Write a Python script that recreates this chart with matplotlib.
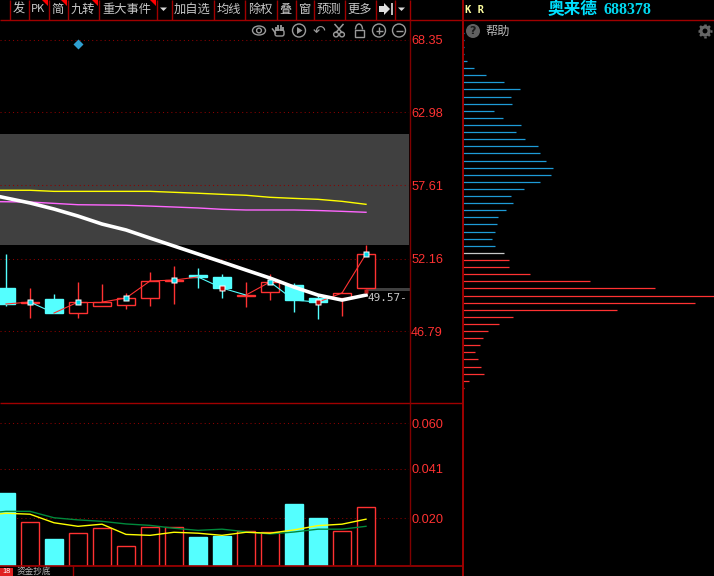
import matplotlib
matplotlib.use("Agg")
import matplotlib.pyplot as plt
from matplotlib.patches import Rectangle, Circle, Ellipse, Polygon, Arc, FancyBboxPatch
import numpy as np

W, H = 714, 576
BLACK = "#000000"; RED = "#ff3232"; DRED = "#a00000"; CYAN = "#54ffff"; GRAY = "#a8a8a8"
CJK = ["Noto Sans CJK SC", "DejaVu Sans"]

# ---------- data ----------
opens  = [49.98,48.87,49.17,48.13,48.65,48.72,49.24,50.50,50.94,50.80,49.39,49.68,50.20,49.24,49.24,49.98]
closes = [48.80,48.94,48.13,48.94,48.94,49.24,50.50,50.57,50.80,49.98,49.46,50.43,49.09,48.94,49.61,52.50]
highs  = [52.50,49.98,49.54,50.43,50.28,49.61,51.17,51.61,51.46,51.02,50.43,51.02,50.35,49.46,49.68,53.17]
lows   = [48.65,47.76,48.13,47.76,48.65,48.43,48.65,48.80,49.98,49.24,48.57,49.09,48.20,47.68,47.91,49.98]
# overlay series begin one period before the first visible candle
ma_white   = [57.02,56.65,56.28,55.83,55.31,54.72,54.28,53.68,53.09,52.50,51.91,51.31,50.72,50.05,49.46,49.09,49.46]
ma_yellow  = [57.22,57.22,57.22,57.14,57.14,57.14,57.14,57.14,57.07,57.00,56.92,56.85,56.70,56.62,56.55,56.40,56.18]
ma_magenta = [56.38,56.37,56.35,56.25,56.15,56.13,56.11,56.05,55.98,55.91,55.81,55.76,55.76,55.76,55.72,55.66,55.59]
volumes = [.0309,.0187,.0112,.0137,.0158,.0086,.0166,.0166,.0120,.0125,.0149,.0141,.0259,.0204,.0146,.0250]
vol_yellow = [.0212,.0222,.0218,.0182,.0167,.0176,.0133,.0129,.0142,.0138,.0129,.0142,.0138,.0152,.0170,.0176,.0197]
vol_green  = [.0220,.0230,.0230,.0203,.0194,.0188,.0177,.0171,.0159,.0150,.0155,.0144,.0135,.0143,.0155,.0155,.0167]
price_ticks = [68.35,62.98,57.61,52.16,46.79]
vol_ticks = [0.060,0.041,0.020]
prof_prices = [68.87,68.35,67.83,67.31,66.79,66.28,65.76,65.24,64.72,64.13,63.61,63.09,62.57,62.05,61.54,61.02,60.50,59.98,59.39,58.87,58.35,
               57.83,57.31,56.79,56.28,55.76,55.24,54.72,54.13,53.61,53.09,52.57,52.05,51.54,51.02,50.50,49.98,49.39,48.87,48.35,47.83,47.31,46.79,46.28,45.76,45.24,44.72,44.13,43.61,43.09,42.57]
prof_sizes  = [1,1,1,1,4,11,23,41,57,48,49,31,40,58,53,62,75,77,83,90,88,
               77,61,48,50,43,35,34,32,29,32,41,46,46,67,127,192,251,232,154,50,36,25,20,17,12,15,18,21,6,1]
last_price = 49.57
band = (53.17, 61.39)
band2 = (49.76, 49.98)
title_name = "奥来德"; title_code = "688378"
toolbar_labels = ["发","PK","简","九转","重大事件","加自选","均线","除权","叠","窗","预测","更多"]
toolbar_edges = [9,28,48,67,98,156,171,213,244,276,295,313,344,375,394,409]

idx = np.arange(len(opens))
ov_x = np.arange(-1, len(opens))

fig = plt.figure(figsize=(W/100, H/100), dpi=100, facecolor=BLACK)
def px_axes(x0, y0, x1, y1, **kw):
    a = fig.add_axes([x0/W, 1-y1/H, (x1-x0)/W, (y1-y0)/H], facecolor=BLACK, **kw)
    for s in a.spines.values():
        s.set_visible(False)
    return a
def xr(a):
    a.set_xlim((0-6)/24, (409-6)/24)

# ---------- price pane ----------
ax = px_axes(0, 20, 409, 402)
xr(ax); ax.set_ylim(41.54, 69.83)
ax.axhspan(*band, color="#404040", lw=0, zorder=0)
ax.fill_between([15, 30], band2[0], band2[1], color="#404040", lw=0, zorder=0)
ax.set_xticks([])
ax.yaxis.tick_right()
ax.set_yticks(price_ticks)
ax.set_yticklabels([f"{v:.2f}" for v in price_ticks], color=RED, fontsize=9.2, family="Liberation Sans")
ax.tick_params(axis="y", length=0, pad=1.5)
ax.grid(axis="y", color="#8c0000", ls=(0, (1, 3)), lw=0.75, zorder=1)
ax.set_axisbelow(True)
o, c, h, l = map(np.array, (opens, closes, highs, lows))
down = c < o
for i in idx:
    col = CYAN if down[i] else RED
    ax.vlines(i, l[i], h[i], color=col, lw=1, zorder=2)
    lo, hi = min(o[i], c[i]), max(o[i], c[i])
    ax.bar(i, hi-lo, bottom=lo, width=0.75, facecolor=CYAN if down[i] else BLACK,
           edgecolor=col, lw=1, zorder=3)
for i in idx[:-1]:
    col = CYAN if c[i+1] < c[i] else RED
    ax.plot([i, i+1], [c[i], c[i+1]], color=col, lw=0.8, zorder=4)
ax.plot(ov_x, ma_yellow, color="#ffff00", lw=1, zorder=4)
ax.plot(ov_x, ma_magenta, color="#ff66ff", lw=1, zorder=4)
ax.plot(ov_x, ma_white, color="#ffffff", lw=2.6, zorder=5)
mk = idx[1::2]
ax.plot(mk, c[mk], ls="", marker="s", ms=4.6, mfc="#ffffff", mec="none", zorder=6)
for i in mk:
    ax.plot(i, c[i], ls="", marker="s", ms=2.2, mfc=("#c00000" if i in (9, 13) else "#00d8e8"), mec="none", zorder=7)
ax.plot(3, 68.05, ls="", marker="D", ms=4.8, mfc="#2f9fd0", mec="none", zorder=6)
ax.plot(15, 49.78, ls="", marker="s", ms=2.6, mfc="#c02020", mec="none", zorder=6)
ax.text(15.08, last_price-0.32, f"{last_price:.2f}-", color="#c8c8c8", fontsize=7.9, family="DejaVu Sans Mono",
        va="center", ha="left", zorder=7)

# ---------- volume pane ----------
av = px_axes(0, 403, 409, 566)
xr(av); av.set_ylim(0, 0.0686)
av.set_xticks([])
av.yaxis.tick_right()
av.set_yticks(vol_ticks)
av.set_yticklabels([f"{v:.3f}" for v in vol_ticks], color=RED, fontsize=9.2, family="Liberation Sans")
av.tick_params(axis="y", length=0, pad=1.5)
av.grid(axis="y", color="#8c0000", ls=(0, (1, 3)), lw=0.75, zorder=4)
for i in idx:
    av.bar(i, volumes[i], width=0.75, facecolor=CYAN if down[i] else BLACK,
           edgecolor=CYAN if down[i] else RED, lw=1, zorder=2)
av.plot(ov_x, vol_green, color="#00893c", lw=1, zorder=5)
av.plot(ov_x, vol_yellow, color="#ffff00", lw=1, zorder=6)

# ---------- volume-at-price profile ----------
ap = px_axes(463, 21, 714, 576)
ap.set_xlim(0, 251); ap.set_ylim(28.65, 69.76)
ap.set_xticks([]); ap.set_yticks([])
prof_col = ["#c8c8c8" if p == 52.57 else ("#1e9bd7" if p > 52.57 else RED) for p in prof_prices]
ap.hlines(prof_prices, 0, prof_sizes, colors=prof_col, lw=0.9)

# ---------- window chrome ----------
ch = fig.add_axes([0, 0, 1, 1], facecolor="none", zorder=10)
ch.set_xlim(0, W); ch.set_ylim(H, 0); ch.axis("off")
def hl(y, x0, x1, col=DRED, lw=1.0):
    ch.plot([x0, x1], [y, y], color=col, lw=lw, solid_capstyle="butt")
def vl(x, y0, y1, col=DRED, lw=1.0):
    ch.plot([x, x], [y0, y1], color=col, lw=lw, solid_capstyle="butt")
hl(19.5, 0, 714); hl(402.5, 0, 462); hl(566, 0, 462, lw=1.2)
vl(409.5, 20, 566, col="#800000"); vl(462.5, 0, 576, lw=1.4)
vl(72.5, 566, 576)
for x in toolbar_edges:
    vl(x+0.5, 0, 19.5)
centers = [18.5,38,57.5,82.5,127,192,228.5,260,285.5,304,328.5,359.5]
for t, x in zip(toolbar_labels, centers):
    ch.text(x, 9.5, t, color="#c8c8c8", fontsize=8.8 if t != "PK" else 8, family=CJK, ha="center", va="center")
for xr_ in (48, 67, 98, 156):
    ch.add_patch(Polygon([[xr_-6, 0], [xr_, 0], [xr_, 6]], fc="#ff0000", ec="none"))
for xc in (163.5, 401.5):
    ch.add_patch(Polygon([[xc-3.5, 7.5], [xc+3.5, 7.5], [xc, 11]], fc="#d8d8d8", ec="none"))
ch.add_patch(Rectangle((379, 5.5), 7, 6, fc="#e0e0e0", ec="none"))
ch.add_patch(Polygon([[384, 3], [390, 9], [384, 15]], fc="#e0e0e0", ec="none"))
vl(391.5, 3, 15, col="#e0e0e0", lw=1.2)

# toolbar icons
ic = "#9a9a9a"
ch.add_patch(Ellipse((259, 30.5), 13, 9, fc="none", ec=ic, lw=1))
ch.add_patch(Circle((259, 30.5), 2.4, fc="none", ec=ic, lw=1))
# hand
for fx, ftop in ((275.5, 27), (278, 24.5), (280.5, 24.5), (283, 26.5)):
    vl(fx, ftop, 31, col=ic, lw=1.3)
ch.add_patch(FancyBboxPatch((275, 30), 9, 6, boxstyle="round,pad=0,rounding_size=2", fc="none", ec=ic, lw=1))
ch.plot([272.5, 275.5], [29, 33], color=ic, lw=1.1)
ch.add_patch(Circle((299, 30.5), 6.5, fc="none", ec=ic, lw=1))
ch.add_patch(Polygon([[297, 27], [297, 34], [302.5, 30.5]], fc=ic, ec="none"))
ch.text(319, 30.5, "\u21b6", color=ic, fontsize=11, family="DejaVu Sans", ha="center", va="center")
# scissors
ch.plot([335, 342], [24.5, 32.5], color=ic, lw=1.1)
ch.plot([343, 336], [24.5, 32.5], color=ic, lw=1.1)
ch.add_patch(Circle((336, 34.5), 2.4, fc="none", ec=ic, lw=1))
ch.add_patch(Circle((342, 34.5), 2.4, fc="none", ec=ic, lw=1))
ch.add_patch(Rectangle((354.5, 30), 9, 6.5, fc="none", ec=ic, lw=1))
ch.add_patch(Arc((359, 29.5), 7, 11, theta1=180, theta2=360, ec=ic, lw=1))
for xc, plus in ((379, True), (399, False)):
    ch.add_patch(Circle((xc, 30.5), 6.5, fc="none", ec=ic, lw=1))
    hl(30.5, xc-3.5, xc+3.5, col=ic)
    if plus:
        vl(xc, 27, 34, col=ic)

# header and help row
ch.text(465, 10, "K R", color="#ffffa0", fontsize=7.6, family="DejaVu Sans Mono", weight="bold", ha="left", va="center")
ch.text(548, 9.5, title_name, color="#00e0ff", fontsize=12, family=CJK, weight="bold", ha="left", va="center")
ch.text(603, 9.8, title_code, color="#00d8f0", fontsize=11.5, family="Liberation Serif", weight="bold", ha="left", va="center")
ch.add_patch(Circle((473, 31), 7, fc="#606060", ec="none"))
ch.text(473, 31, "?", color="#1a1a1a", fontsize=8, family="DejaVu Sans", weight="bold", ha="center", va="center")
ch.text(485.5, 31, "帮助", color="#b8b8b8", fontsize=8.8, family=CJK, ha="left", va="center")
# gear
ch.add_patch(Circle((705, 31), 4, fc="none", ec="#666666", lw=2.2))
for ang in np.deg2rad(np.arange(0, 360, 45)):
    ch.plot([705+4.5*np.cos(ang), 705+7*np.cos(ang)], [31+4.5*np.sin(ang), 31+7*np.sin(ang)],
            color="#666666", lw=1.8, solid_capstyle="butt")

# bottom tab
ch.add_patch(Rectangle((0, 568), 13, 8, fc="#e02020", ec="none"))
ch.text(6.5, 571.8, "18", color="#ffffff", fontsize=5.2, family="Liberation Sans", ha="center", va="center")
ch.text(17, 571.2, "资金抄底", color="#b8b8b8", fontsize=6.2, family=CJK, ha="left", va="center")

fig.savefig("out.png", dpi=100, facecolor=BLACK)
